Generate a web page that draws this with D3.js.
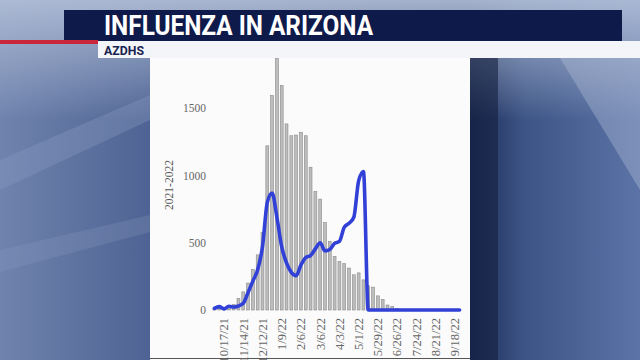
<!DOCTYPE html>
<html><head><meta charset="utf-8">
<script src="https://cdn.jsdelivr.net/npm/d3@7"></script>
<style>html,body{margin:0;padding:0;background:#4a5f8f;}svg{display:block;}</style>
</head><body><svg id="c" width="640" height="360"></svg>
<script>
const weeks = ["10/3/21","10/10/21","10/17/21","10/24/21","10/31/21","11/7/21","11/14/21","11/21/21","11/28/21","12/5/21","12/12/21","12/19/21","12/26/21","1/2/22","1/9/22","1/16/22","1/23/22","1/30/22","2/6/22","2/13/22","2/20/22","2/27/22","3/6/22","3/13/22","3/20/22","3/27/22","4/3/22","4/10/22","4/17/22","4/24/22","5/1/22","5/8/22","5/15/22","5/22/22","5/29/22","6/5/22","6/12/22","6/19/22","6/26/22","7/3/22","7/10/22","7/17/22","7/24/22","7/31/22","8/7/22","8/14/22","8/21/22","8/28/22","9/4/22","9/11/22","9/18/22","9/25/22"];
const barValues = [8,10,15,22,40,85,135,200,300,410,575,1221,1595,1870,1670,1384,1296,1301,1322,1296,1062,880,825,650,511,399,360,345,312,262,276,224,180,170,105,78,37,25,12,0,0,0,0,0,0,0,0,0,0,0,0,0];
const lineValues = [12,25,8,28,22,30,50,130,215,300,470,800,870,690,470,350,280,255,335,390,405,455,500,440,450,495,510,615,645,690,960,1030,0,0,0,0,0,0,0,0,0,0,0,0,0,0,0,0,0,0,0,0];
const tickLabels = ["10/17/21","11/14/21","12/12/21","1/9/22","2/6/22","3/6/22","4/3/22","5/1/22","5/29/22","6/26/22","7/24/22","8/21/22","9/18/22"];
const yTicks = [0,500,1000,1500];
const titleText = "INFLUENZA IN ARIZONA";
const sourceText = "AZDHS";
const yTitle = "2021-2022";

const svg = d3.select("#c");
const defs = svg.append("defs");

// background
const bg = defs.append("linearGradient").attr("id","bg").attr("x1","0").attr("x2","1").attr("y1","0").attr("y2","0");
bg.append("stop").attr("offset","0").attr("stop-color","#6f83ad");
bg.append("stop").attr("offset","0.23").attr("stop-color","#4f6494");
bg.append("stop").attr("offset","0.73").attr("stop-color","#1c2a55");
bg.append("stop").attr("offset","0.82").attr("stop-color","#3d5586");
bg.append("stop").attr("offset","1").attr("stop-color","#5b73a6");
svg.append("rect").attr("width",640).attr("height",360).attr("fill","url(#bg)");
const topg = defs.append("linearGradient").attr("id","topg").attr("x1","0").attr("x2","0").attr("y1","0").attr("y2","1");
topg.append("stop").attr("offset","0").attr("stop-color","#b3c0d8").attr("stop-opacity",0.9);
topg.append("stop").attr("offset","1").attr("stop-color","#b3c0d8").attr("stop-opacity",0);
svg.append("rect").attr("width",640).attr("height",120).attr("fill","url(#topg)");
// studio light streaks
svg.append("polygon").attr("points","0,160 150,95 150,120 0,190").attr("fill","#8a9cc2").attr("opacity",0.35);
svg.append("polygon").attr("points","0,250 150,215 150,232 0,272").attr("fill","#8a9cc2").attr("opacity",0.25);
svg.append("polygon").attr("points","560,58 640,58 640,190").attr("fill","#b9c5dc").attr("opacity",0.35);
svg.append("rect").attr("x",470).attr("y",58).attr("width",28).attr("height",302).attr("fill","#141f40").attr("opacity",0.6);

// banner
svg.append("rect").attr("x",64).attr("y",10).attr("width",558).attr("height",31).attr("fill","#0e1a4a");
svg.append("rect").attr("x",0).attr("y",40).attr("width",98).attr("height",4).attr("fill","#c8283a");
svg.append("rect").attr("x",98).attr("y",41).attr("width",542).attr("height",17).attr("fill","#f4f5f8");
svg.append("text").attr("x",104).attr("y",35).attr("font-family","Roboto, 'Liberation Sans', sans-serif")
  .attr("font-weight","bold").attr("font-size",28).attr("fill","#ffffff")
  .attr("textLength",269).attr("lengthAdjust","spacingAndGlyphs").text(titleText);
svg.append("text").attr("x",104).attr("y",54.5).attr("font-family","Roboto, 'Liberation Sans', sans-serif")
  .attr("font-weight","bold").attr("font-size",13).attr("fill","#1a2450")
  .attr("textLength",40).attr("lengthAdjust","spacingAndGlyphs").text(sourceText);

// chart panel
svg.append("rect").attr("x",150).attr("y",58).attr("width",320).attr("height",302).attr("fill","#fbfbfb");
svg.append("line").attr("x1",150).attr("x2",470).attr("y1",358.5).attr("y2",358.5).attr("stroke","#555").attr("stroke-width",1);

const g = svg.append("g");
const clip = defs.append("clipPath").attr("id","pc");
clip.append("rect").attr("x",150).attr("y",58).attr("width",320).attr("height",300);

const x = d3.scaleBand().domain(weeks).range([212,462]).paddingInner(0.4).paddingOuter(0.2);
const y = d3.scaleLinear().domain([0,1500]).range([310,108.3]);

const plot = g.append("g").attr("clip-path","url(#pc)");
plot.selectAll("rect.bar").data(weeks.map((w,i)=>({w,v:barValues[i]})).filter(d=>d.v>0))
  .enter().append("rect").attr("class","bar")
  .attr("x",d=>x(d.w)).attr("width",x.bandwidth())
  .attr("y",d=>y(d.v)).attr("height",d=>y(0)-y(d.v))
  .attr("fill","#bdbdbd").attr("stroke","#8a8a8a").attr("stroke-width",0.6);

const line = d3.line().x((d,i)=>x(weeks[i])+x.bandwidth()/2).y(d=>y(d)).curve(d3.curveMonotoneX);
plot.append("path").datum(lineValues).attr("d",line).attr("fill","none")
  .attr("stroke","#3140d6").attr("stroke-width",3.6).attr("stroke-linejoin","round").attr("stroke-linecap","round");

// y axis
const yAxis = d3.axisLeft(y).tickValues(yTicks).tickFormat(d3.format("d")).tickSize(0).tickPadding(0);
const ya = g.append("g").attr("transform","translate(206,0)").call(yAxis);
ya.select(".domain").remove();
ya.selectAll("text").attr("font-family","'Liberation Serif', 'DejaVu Serif', serif").attr("font-size",11.5).attr("fill","#666");

g.append("text").attr("transform","translate(173,185) rotate(-90)").attr("text-anchor","middle")
  .attr("font-family","'Liberation Serif', serif").attr("font-size",11.5).attr("fill","#555").text(yTitle);

// x axis
const xAxis = d3.axisBottom(x).tickValues(tickLabels).tickSize(0).tickPadding(0);
const xa = g.append("g").attr("transform","translate(0,318)").call(xAxis);
xa.select(".domain").remove();
xa.selectAll("text").attr("transform","rotate(-90)").attr("text-anchor","end")
  .attr("x",0).attr("y",0).attr("dy","0.35em")
  .attr("font-family","'Liberation Serif', serif").attr("font-size",12.5).attr("fill","#666");
</script></body></html>
